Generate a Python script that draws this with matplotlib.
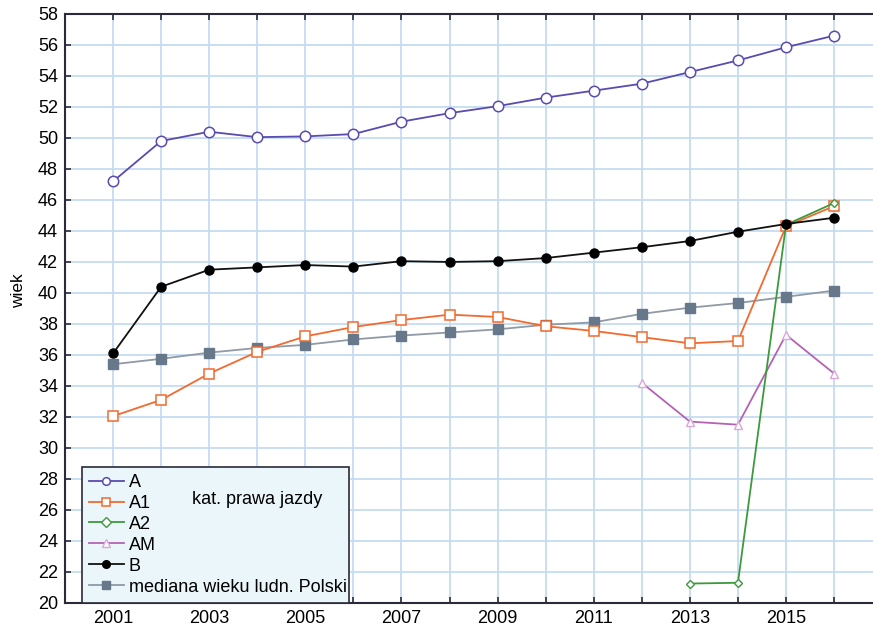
import numpy as np
import matplotlib
matplotlib.use("Agg")
from matplotlib import pyplot as plt

plt.rcParams["font.family"] = ["Liberation Sans", "DejaVu Sans"]

# data
years = np.arange(2001, 2017)
a_age = [47.2, 49.8, 50.4, 50.05, 50.1, 50.25, 51.05, 51.6, 52.05, 52.6,
         53.05, 53.5, 54.25, 55.0, 55.85, 56.6]
a1_age = [32.05, 33.1, 34.8, 36.2, 37.2, 37.8, 38.25, 38.6, 38.45, 37.85,
          37.55, 37.15, 36.75, 36.9, 44.3, 45.6]
a2_years = [2013, 2014, 2015, 2016]
a2_age = [21.25, 21.3, 44.4, 45.8]
am_years = [2012, 2013, 2014, 2015, 2016]
am_age = [34.2, 31.7, 31.5, 37.3, 34.8]
b_age = [36.1, 40.4, 41.5, 41.65, 41.8, 41.7, 42.05, 42.0, 42.05, 42.25,
         42.6, 42.95, 43.35, 43.95, 44.45, 44.85]
median_pl = [35.4, 35.75, 36.15, 36.45, 36.65, 37.0, 37.25, 37.45, 37.65,
             37.95, 38.1, 38.65, 39.05, 39.35, 39.75, 40.15]

fig = plt.figure(figsize=(8.73, 6.34), dpi=100)
ax = fig.add_axes([0.0745, 0.049, 0.9255, 0.929])

ax.plot(years, median_pl, color="#8f9aa6", lw=1.3, marker="s", ms=6.5,
        mfc="#67788a", mec="#67788a", label="mediana wieku ludn. Polski", zorder=3)
ax.plot(years, a_age, color="#5a4bb0", lw=1.3, marker="o", ms=7.5,
        mfc="white", mec="#5a4bb0", mew=1.1, label="A", zorder=4)
ax.plot(years, a1_age, color="#f26a2e", lw=1.3, marker="s", ms=7,
        mfc="white", mec="#f26a2e", mew=1.1, label="A1", zorder=4)
ax.plot(a2_years, a2_age, color="#3c9a3c", lw=1.3, marker="D", ms=4.5,
        mfc="white", mec="#3c9a3c", mew=1.0, label="A2", zorder=5)
ax.plot(am_years, am_age, color="#b463b4", lw=1.3, marker="^", ms=6,
        mfc="white", mec="#d8a8d8", mew=1.0, label="AM", zorder=4)
ax.plot(years, b_age, color="#111111", lw=1.3, marker="o", ms=6.5,
        mfc="black", mec="black", label="B", zorder=5)

ax.set_xlim(2000, 2016.81)
ax.set_ylim(20, 58)
ax.set_xticks(np.arange(2001, 2017, 2))
ax.set_xticks(np.arange(2000, 2017), minor=True)
ax.set_yticks(np.arange(20, 59, 2))
ax.grid(True, which="both", color="#c5dcf0", lw=1.3)
ax.set_axisbelow(True)
ax.tick_params(axis="both", which="both", direction="in", top=True,
               labelsize=13, length=4, width=1.2, color="#2a2a3a", pad=5)
ax.tick_params(axis="x", which="minor", length=4)
for side in ["left", "bottom", "top"]:
    ax.spines[side].set_color("#2a2a3a")
    ax.spines[side].set_linewidth(1.5)
ax.spines["right"].set_visible(False)
ax.set_ylabel("wiek", fontsize=12.5)
ax.yaxis.set_label_coords(-0.048, 0.53)

handles, labels = ax.get_legend_handles_labels()
order = [1, 2, 3, 4, 5, 0]
leg = ax.legend([handles[i] for i in order], [labels[i] for i in order],
                loc="lower left", bbox_to_anchor=(0.021, 0.0, 0.33, 0.263),
                mode="expand", fontsize=13, frameon=True, fancybox=False,
                handlelength=1.9, borderaxespad=0, labelspacing=0.22,
                borderpad=0.4, handletextpad=0.3)
leg.get_frame().set_facecolor("#eaf6f9")
leg.get_frame().set_edgecolor("#2a2a3a")
leg.get_frame().set_linewidth(1.2)
leg.get_frame().set_alpha(1)
for h in leg.legend_handles:
    h.set_markersize(5.5)
ax.text(0.157, 0.168, "kat. prawa jazdy", transform=ax.transAxes,
        fontsize=13, zorder=10)

fig.savefig("out.png", dpi=100)
